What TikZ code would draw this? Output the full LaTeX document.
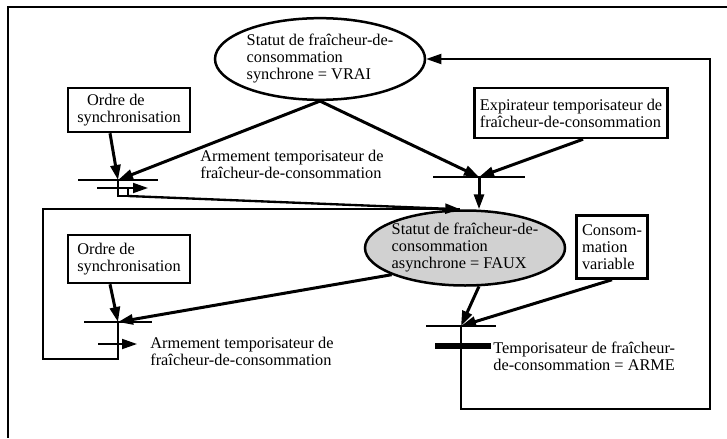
\documentclass[tikz,border=0pt]{standalone}
\usepackage{fontspec}
\setmainfont{Liberation Serif}
\usetikzlibrary{arrows.meta, positioning, calc, shapes.geometric}

\begin{document}
\begin{tikzpicture}[
    x=0.6pt, y=-0.6pt,
    txt/.style={font=\fontsize{9.8}{10.2}\selectfont},
    place/.style={ellipse, draw, line width=1.5pt, txt, align=left, inner xsep=-6pt, inner ysep=0pt},
    cond/.style={rectangle, draw, line width=1.5pt, txt, align=left, inner xsep=2pt, inner ysep=1pt},
    bar/.style={fill, inner sep=0pt, minimum height=1.3pt, minimum width=#1},
    act/.style={txt, align=left, inner sep=0pt, anchor=west},
    arc/.style={-{Triangle[length=9pt,width=6pt]}, line width=1.8pt},
    link/.style={line width=1.1pt},
    frame/.style={line width=1.6pt}
]
    \useasboundingbox (0,0) rectangle (727,438);

    % Outer frame (cut by the page)
    \draw[frame] (727,7) -- (8,7) -- (8,438);

    % Places
    \node[place, minimum width=126pt, minimum height=49pt] (V) at (320,59)
        {Statut de fraîcheur-de-\\consommation\\synchrone = VRAI};
    \node[place, fill=black!18, minimum width=120pt, minimum height=45pt] (F) at (465,248)
        {Statut de fraîcheur-de-\\consommation\\asynchrone = FAUX};

    % Conditions
    \node[cond, minimum width=73pt, minimum height=26.4pt] (O1) at (129,110)
        {\hspace*{0.6em}Ordre de\\synchronisation};
    \node[cond, minimum width=116pt, minimum height=30pt] (E) at (571,113)
        {Expirateur temporisateur de\\fraîcheur-de-consommation};
    \node[cond, minimum width=73pt, minimum height=28.8pt] (O2) at (129,259)
        {Ordre de\\synchronisation};
    \node[cond, minimum width=42.6pt, minimum height=37.8pt] (C) at (612,247)
        {Consom-\\mation\\variable};

    % Transitions
    \node[bar=48pt] (T1) at (118,180) {};
    \node[bar=55pt] (T2) at (479,177) {};
    \node[bar=41pt] (T3) at (118,322) {};
    \node[bar=42pt] (T4) at (461,326) {};

    % Actions
    \node[act] (A1) at (200,164) {Armement temporisateur de\\fraîcheur-de-consommation};
    \node[act] (A3) at (150,351) {Armement temporisateur de\\fraîcheur-de-consommation};
    \node[act] (A4) at (493,356) {Temporisateur de fraîcheur-\\de-consommation = ARME};
    \node[fill, inner sep=0pt, minimum width=33.6pt, minimum height=3.6pt] (M4) at (463,346) {};

    % Edges into transitions
    \draw[arc] (V.south) -- (T1.center);
    \draw[arc] (V.south) -- (T2.center);
    \draw[arc] ($(O1.south)+(-19,0)$) -- (T1.center);
    \draw[arc] ($(E.south)+(12,0)$) -- (T2.center);
    \draw[arc] (F.200) -- (T3.center);
    \draw[arc] ($(O2.south)+(-19,0)$) -- (T3.center);
    \draw[arc] (F.-70) -- (T4.center);
    \draw[arc] (C.south) -- (T4.center);

    % Edges out of T2 and T1
    \draw[arc] (T2.center) -- (T2.center |- F.north);
    \coordinate (s1) at (128,196);
    \coordinate (a1) at (148,188);
    \draw[link] (T1.center) |- (s1) -- ++(0,-9);
    \draw[arc, line width=1.1pt] (a1) ++(-51,0) -- (a1);
    \draw[arc, line width=1.4pt] (s1) -- (F.97);

    % Loop of T3 back to F
    \coordinate (l1) at (43,359);
    \coordinate (a3) at (137,344);
    \draw[link] (T3.center) |- (l1) |- (F.97);
    \draw[arc, line width=1.1pt] (a3) ++(-39,0) -- (a3);

    % Loop of T4 back to V
    \coordinate (l2) at (710,409);
    \draw[arc, line width=1.1pt] (T4.center) |- (l2) |- (V.east);
\end{tikzpicture}
\end{document}
